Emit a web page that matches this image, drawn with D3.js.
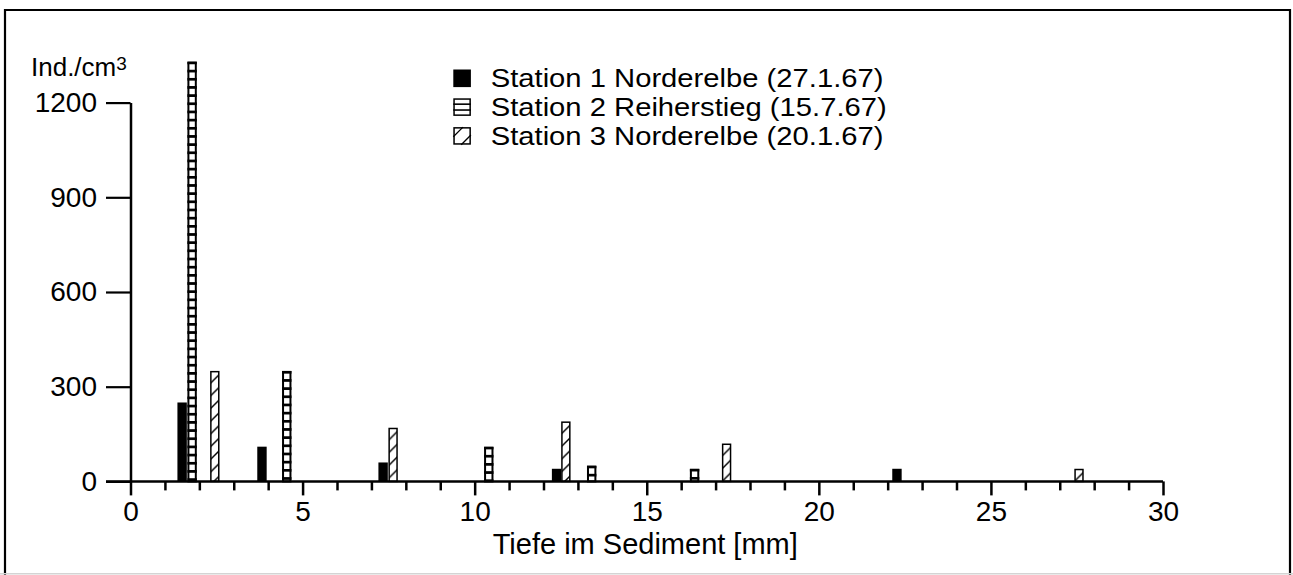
<!DOCTYPE html>
<html>
<head>
<meta charset="utf-8">
<script src="https://cdn.jsdelivr.net/npm/d3@7"></script>
<style>
  body { margin: 0; background: #fff; }
  svg { display: block; }
  text { font-family: "Liberation Sans", Arial, Helvetica, sans-serif; fill: #000; }
</style>
</head>
<body>
<svg id="chart" width="1293" height="575"></svg>
<script>
// Nematode density by sediment depth at three stations of the Elbe
const stationNames = [
  "Station 1 Norderelbe (27.1.67)",
  "Station 2 Reiherstieg (15.7.67)",
  "Station 3 Norderelbe (20.1.67)"
];
const depth1 = [1.5, 3.82, 7.34, 12.38, 22.27];
const count1 = [250, 110, 60, 40, 40];
const depth2 = [1.79, 4.54, 10.41, 13.4, 16.39];
const count2 = [1330, 350, 110, 50, 40];
const depth3 = [2.45, 7.63, 12.65, 17.32, 27.56];
const count3 = [350, 170, 190, 120, 40];

const xTicks = [0, 5, 10, 15, 20, 25, 30];
const xMinorTicks = d3.range(0, 31).filter(d => d % 5 !== 0);
const yTicks = [0, 300, 600, 900, 1200];
const xTitle = "Tiefe im Sediment [mm]";
const yTitle = "Ind./cm";
const yTitleSup = "3";

// layout
const FONT = 28;
const LEGEND_FONT = 25.5;
const LEGEND_STRETCH = 1.145;
const BAR_W = 9.4;
const svg = d3.select("#chart");
const x = d3.scaleLinear().domain([0, 30]).range([130.5, 1163]);
const y = d3.scaleLinear().domain([0, 1200]).range([481.4, 102.6]);
const Y_TICK = 24.5;

// outer frame
svg.append("path")
  .attr("d", "M5,585 L5,10 L1290,10 L1290,585")
  .attr("fill", "none").attr("stroke", "#000").attr("stroke-width", 2.2);
svg.append("line")
  .attr("x1", 0).attr("x2", 1293).attr("y1", 573.8).attr("y2", 573.8)
  .attr("stroke", "#d4d4d4").attr("stroke-width", 1.5);

const defs = svg.append("defs");

const series = [
  { name: stationNames[0], depth: depth1, count: count1, kind: "solid" },
  { name: stationNames[1], depth: depth2, count: count2, kind: "stripe" },
  { name: stationNames[2], depth: depth3, count: count3, kind: "hatch" }
];

let patId = 0;
function stripePattern(px, py, period, thick) {
  const id = "p" + (patId++);
  const p = defs.append("pattern").attr("id", id)
    .attr("patternUnits", "userSpaceOnUse")
    .attr("x", px).attr("y", py).attr("width", 40).attr("height", period);
  p.append("rect").attr("width", 40).attr("height", period).attr("fill", "#fff");
  p.append("rect").attr("width", 40).attr("height", thick).attr("fill", "#000");
  return id;
}
function hatchPattern(px, py, period, sw) {
  const id = "p" + (patId++);
  const s = period;
  const p = defs.append("pattern").attr("id", id)
    .attr("patternUnits", "userSpaceOnUse")
    .attr("x", px).attr("y", py).attr("width", s).attr("height", s);
  p.append("rect").attr("width", s).attr("height", s).attr("fill", "#fff");
  p.append("path")
    .attr("d", `M0,${s} L${s},0 M${-s / 4},${s / 4} L${s / 4},${-s / 4} M${s * 3 / 4},${s * 5 / 4} L${s * 5 / 4},${s * 3 / 4}`)
    .attr("stroke", "#000").attr("stroke-width", sw).attr("fill", "none");
  return id;
}

// bars
const barLayer = svg.append("g");
series.forEach(s => {
  s.depth.forEach((d, i) => {
    const left = x(d) - BAR_W / 2;
    const top = y(s.count[i]);
    const h = y(0) - top;
    if (s.kind === "solid") {
      barLayer.append("rect")
        .attr("x", left).attr("y", top).attr("width", BAR_W).attr("height", h)
        .attr("fill", "#000");
    } else if (s.kind === "stripe") {
      const id = stripePattern(left, top, 8.17, 2.7);
      const sw = 2;
      barLayer.append("rect")
        .attr("x", left).attr("y", top).attr("width", BAR_W).attr("height", h)
        .attr("fill", `url(#${id})`);
      barLayer.append("rect")
        .attr("x", left + sw / 2).attr("y", top + sw / 2)
        .attr("width", BAR_W - sw).attr("height", h - sw / 2)
        .attr("fill", "none").attr("stroke", "#000").attr("stroke-width", sw);
    } else {
      const id = hatchPattern(left, top, 12.7, 1.4);
      const sw = 1.5;
      barLayer.append("rect")
        .attr("x", left + sw / 2).attr("y", top + sw / 2)
        .attr("width", BAR_W - sw).attr("height", h - sw / 2)
        .attr("fill", `url(#${id})`).attr("stroke", "#000").attr("stroke-width", sw);
    }
  });
});

// x axis: major and minor ticks
const xAxisG = svg.append("g").attr("transform", `translate(0,${y(0)})`);
xAxisG.call(d3.axisBottom(x).tickValues(xTicks).tickSize(14).tickSizeOuter(0)
  .tickPadding(6).tickFormat(d3.format("d")));
xAxisG.append("g").call(d3.axisBottom(x).tickValues(xMinorTicks).tickSize(9)
  .tickSizeOuter(0).tickFormat(""));
xAxisG.selectAll(".domain").remove();
xAxisG.selectAll(".tick line").attr("stroke", "#000").attr("stroke-width", 2.5);
xAxisG.selectAll(".tick text").attr("font-size", FONT).attr("font-family", null);
xAxisG.append("line")
  .attr("x1", x(0) - Y_TICK).attr("x2", x(30)).attr("y1", 0).attr("y2", 0)
  .attr("stroke", "#000").attr("stroke-width", 2.5);

// y axis
const yAxisG = svg.append("g").attr("transform", `translate(${x(0)},0)`);
yAxisG.call(d3.axisLeft(y).tickValues(yTicks).tickSize(Y_TICK).tickSizeOuter(0)
  .tickPadding(9).tickFormat(d3.format("d")));
yAxisG.select(".domain").attr("stroke", "#000").attr("stroke-width", 2.5);
yAxisG.selectAll(".tick line").attr("stroke", "#000").attr("stroke-width", 2.2);
yAxisG.selectAll(".tick text").attr("font-size", FONT).attr("font-family", null);

// axis titles
svg.append("text")
  .attr("x", (x(0) + x(30)) / 2 - 1.5).attr("y", 554)
  .attr("text-anchor", "middle").attr("font-size", 29)
  .text(xTitle);
const yt = svg.append("text").attr("x", 31).attr("y", 76).attr("font-size", 26);
yt.append("tspan").text(yTitle);
yt.append("tspan").attr("font-size", 19).attr("dy", -6).text(yTitleSup);

// legend
const legend = svg.append("g").attr("transform", "translate(453.3,69.5)");
const SQ = 17.6, ROW = 28.8;
series.forEach((s, i) => {
  const g = legend.append("g").attr("transform", `translate(0,${i * ROW})`);
  if (s.kind === "solid") {
    g.append("rect").attr("width", SQ).attr("height", SQ).attr("fill", "#000");
  } else if (s.kind === "stripe") {
    g.append("rect").attr("x", 0.75).attr("y", 0.75).attr("width", SQ - 1.5).attr("height", SQ - 1.5)
      .attr("fill", "#fff").attr("stroke", "#000").attr("stroke-width", 1.5);
    [SQ / 3, SQ * 2 / 3].forEach(v => {
      g.append("line").attr("x1", 0).attr("x2", SQ).attr("y1", v).attr("y2", v)
        .attr("stroke", "#000").attr("stroke-width", 1.6);
    });
  } else {
    g.append("rect").attr("x", 0.75).attr("y", 0.75).attr("width", SQ - 1.5).attr("height", SQ - 1.5)
      .attr("fill", "#fff").attr("stroke", "#000").attr("stroke-width", 1.5);
    g.append("path")
      .attr("d", `M0,${SQ * 0.55} L${SQ * 0.55},0 M${SQ * 0.45},${SQ} L${SQ},${SQ * 0.45}`)
      .attr("stroke", "#000").attr("stroke-width", 1.3);
  }
  const t = g.append("text").attr("x", 37.4).attr("y", SQ).attr("font-size", LEGEND_FONT).text(s.name);
  // widen the glyphs slightly to the lettering width of the original print
  const natural = t.node().getComputedTextLength();
  t.attr("textLength", natural * LEGEND_STRETCH).attr("lengthAdjust", "spacingAndGlyphs");
});
</script>
</body>
</html>
